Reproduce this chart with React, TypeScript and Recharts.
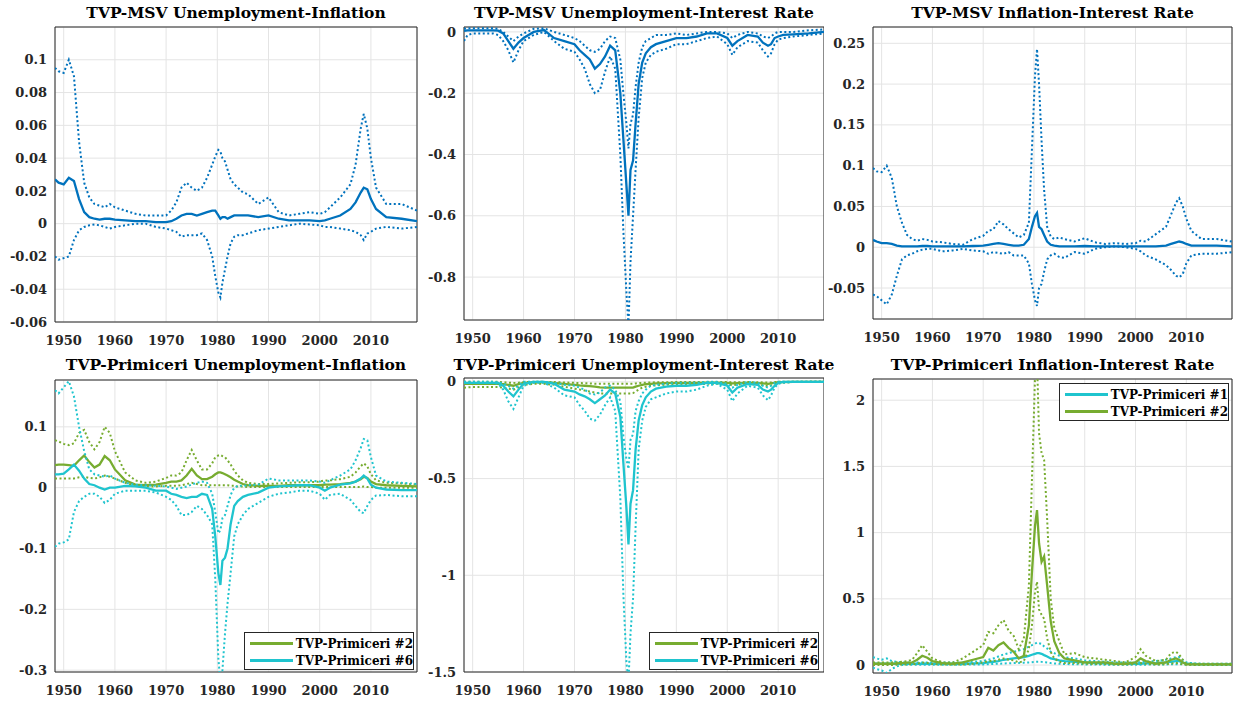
import React from "react"
import { LineChart, Line, XAxis, YAxis, CartesianGrid, ReferenceArea } from "recharts"

// sample dates (denser around the 1980 spike)
const years = [
  1948.3, 1949, 1950, 1951, 1952, 1953, 1954, 1955, 1956, 1957,
  1958, 1959, 1960, 1962, 1964, 1966, 1968, 1970, 1971, 1972,
  1973, 1974, 1975, 1976, 1977, 1978, 1979, 1979.6, 1980.2, 1980.6,
  1981, 1981.5, 1982, 1982.6, 1983.3, 1984, 1985, 1986, 1988, 1990,
  1992, 1994, 1996, 1998, 2000, 2001, 2002, 2004, 2006, 2007,
  2008, 2008.6, 2009.3, 2010, 2011, 2013, 2016, 2019,
]

// TVP-MSV Unemployment-Inflation
const msvUIMed = [
  0.027, 0.025, 0.024, 0.028, 0.026, 0.015, 0.007, 0.004, 0.003, 0.0025,
  0.003, 0.003, 0.0025, 0.002, 0.0015, 0.0015, 0.001, 0.001, 0.0015, 0.003,
  0.005, 0.006, 0.006, 0.005, 0.006, 0.007, 0.008, 0.008, 0.005, 0.003,
  0.004, 0.004, 0.003, 0.004, 0.005, 0.005, 0.005, 0.005, 0.004, 0.005,
  0.003, 0.002, 0.002, 0.002, 0.0015, 0.002, 0.003, 0.005, 0.009, 0.013,
  0.019, 0.022, 0.021, 0.015, 0.009, 0.004, 0.003, 0.0015,
]
const msvUIHi = [
  0.095, 0.093, 0.092, 0.1, 0.09, 0.05, 0.025, 0.016, 0.012, 0.011,
  0.01, 0.012, 0.01, 0.008, 0.006, 0.005, 0.005, 0.005, 0.008, 0.013,
  0.022, 0.025, 0.022, 0.02, 0.022, 0.028, 0.036, 0.041, 0.045, 0.044,
  0.04, 0.038, 0.033, 0.027, 0.024, 0.022, 0.019, 0.018, 0.012, 0.016,
  0.007, 0.005, 0.006, 0.007, 0.006, 0.007, 0.01, 0.016, 0.024, 0.036,
  0.058, 0.067, 0.058, 0.04, 0.022, 0.012, 0.012, 0.008,
]
const msvUILo = [
  -0.02, -0.022, -0.021, -0.02, -0.01, -0.004, -0.002, -0.001, -0.0005, -0.001,
  -0.002, -0.003, -0.002, -0.001, 0, 0, -0.002, -0.003, -0.004, -0.005,
  -0.008, -0.007, -0.007, -0.007, -0.006, -0.01, -0.02, -0.032, -0.042, -0.045,
  -0.036, -0.028, -0.02, -0.012, -0.008, -0.007, -0.007, -0.006, -0.004, -0.003,
  -0.002, -0.001, 0, -0.0005, -0.001, -0.002, -0.002, -0.003, -0.004, -0.005,
  -0.007, -0.01, -0.006, -0.005, -0.003, -0.002, -0.003, -0.002,
]

// TVP-MSV Unemployment-Interest Rate
const msvURMed = [
  0.003, 0.005, 0.005, 0.005, 0.005, 0.005, 0.005, 0.004, -0.005, -0.03,
  -0.055, -0.035, -0.02, 0, 0.006, -0.02, -0.03, -0.04, -0.06, -0.075,
  -0.09, -0.12, -0.105, -0.08, -0.045, -0.06, -0.2, -0.35, -0.5, -0.6,
  -0.45, -0.42, -0.3, -0.17, -0.1, -0.07, -0.05, -0.04, -0.03, -0.02,
  -0.02, -0.015, -0.005, -0.005, -0.02, -0.045, -0.03, -0.01, -0.015, -0.035,
  -0.045, -0.04, -0.02, -0.015, -0.01, -0.008, -0.005, 0,
]
const msvURHi = [
  0.01, 0.012, 0.012, 0.012, 0.012, 0.012, 0.012, 0.01, 0, -0.015,
  -0.03, -0.015, -0.005, 0.01, 0.012, 0, -0.01, -0.02, -0.03, -0.045,
  -0.06, -0.065, -0.055, -0.03, -0.015, -0.02, -0.09, -0.2, -0.3, -0.38,
  -0.3, -0.27, -0.18, -0.1, -0.05, -0.03, -0.02, -0.01, -0.01, -0.005,
  -0.01, -0.005, 0, 0, -0.005, -0.02, -0.01, 0, -0.005, -0.015,
  -0.02, -0.015, -0.005, 0, 0, 0, 0.005, 0.008,
]
const msvURLo = [
  -0.03, -0.01, -0.005, -0.005, -0.005, -0.005, -0.005, -0.01, -0.03, -0.06,
  -0.1, -0.06, -0.03, -0.01, 0, -0.03, -0.055, -0.065, -0.09, -0.12,
  -0.17, -0.2, -0.19, -0.13, -0.08, -0.12, -0.4, -0.65, -0.85, -0.96,
  -0.75, -0.6, -0.45, -0.28, -0.15, -0.1, -0.075, -0.065, -0.055, -0.04,
  -0.04, -0.03, -0.02, -0.015, -0.04, -0.075, -0.05, -0.03, -0.035, -0.06,
  -0.08, -0.07, -0.04, -0.025, -0.02, -0.015, -0.01, -0.005,
]

// TVP-MSV Inflation-Interest Rate
const msvIRMed = [
  0.009, 0.007, 0.005, 0.005, 0.004, 0.002, 0.001, 0.001, 0.001, 0.001,
  0.0015, 0.0015, 0.001, 0.001, 0.001, 0.001, 0.0015, 0.002, 0.003, 0.004,
  0.005, 0.004, 0.003, 0.002, 0.002, 0.003, 0.01, 0.025, 0.038, 0.042,
  0.025, 0.022, 0.015, 0.007, 0.003, 0.002, 0.001, 0.001, 0.001, 0.0015,
  0.001, 0.001, 0.001, 0.001, 0.001, 0.001, 0.001, 0.001, 0.002, 0.004,
  0.006, 0.007, 0.006, 0.004, 0.002, 0.002, 0.002, 0.001,
]
const msvIRHi = [
  0.097, 0.093, 0.092, 0.1, 0.085, 0.05, 0.03, 0.015, 0.01, 0.008,
  0.01, 0.009, 0.007, 0.006, 0.004, 0.003, 0.01, 0.014, 0.02, 0.022,
  0.032, 0.028, 0.022, 0.017, 0.012, 0.015, 0.03, 0.12, 0.21, 0.243,
  0.2, 0.13, 0.07, 0.025, 0.013, 0.01, 0.012, 0.01, 0.007, 0.011,
  0.006, 0.004, 0.005, 0.004, 0.005, 0.008, 0.007, 0.016, 0.025, 0.04,
  0.055, 0.06, 0.05, 0.035, 0.02, 0.01, 0.01, 0.007,
]
const msvIRLo = [
  -0.058, -0.06, -0.065, -0.07, -0.058, -0.035, -0.015, -0.01, -0.008, -0.005,
  -0.003, -0.002, -0.002, -0.005, -0.004, -0.002, -0.004, -0.005, -0.008, -0.006,
  -0.007, -0.008, -0.006, -0.01, -0.01, -0.01, -0.02, -0.045, -0.065, -0.072,
  -0.05, -0.045, -0.03, -0.015, -0.01, -0.008, -0.012, -0.013, -0.006, -0.008,
  -0.002, 0, 0.001, 0, -0.002, -0.005, -0.01, -0.015, -0.022, -0.028,
  -0.035, -0.037, -0.033, -0.02, -0.01, -0.008, -0.008, -0.006,
]

// TVP-Primiceri Unemployment-Inflation
const p2UIMed = [
  0.037, 0.038, 0.038, 0.037, 0.036, 0.045, 0.053, 0.042, 0.033, 0.038,
  0.052, 0.045, 0.03, 0.012, 0.005, 0.004, 0.005, 0.008, 0.01, 0.01,
  0.012, 0.02, 0.031, 0.02, 0.014, 0.014, 0.018, 0.022, 0.025, 0.025,
  0.024, 0.022, 0.02, 0.017, 0.013, 0.01, 0.006, 0.004, 0.003, 0.003,
  0.003, 0.004, 0.004, 0.004, 0.004, 0.005, 0.005, 0.006, 0.008, 0.01,
  0.014, 0.018, 0.016, 0.01, 0.006, 0.004, 0.003, 0.002,
]
const p2UIHi = [
  0.078, 0.076, 0.072, 0.07, 0.073, 0.09, 0.095, 0.075, 0.063, 0.075,
  0.1, 0.09, 0.06, 0.025, 0.012, 0.008, 0.01, 0.016, 0.02, 0.02,
  0.025, 0.045, 0.062, 0.045, 0.03, 0.03, 0.04, 0.05, 0.053, 0.054,
  0.052, 0.05, 0.045, 0.038, 0.028, 0.02, 0.012, 0.008, 0.006, 0.006,
  0.007, 0.008, 0.009, 0.009, 0.01, 0.012, 0.012, 0.014, 0.018, 0.025,
  0.035, 0.04, 0.035, 0.022, 0.012, 0.008, 0.007, 0.005,
]
const p2UILo = [
  0.015, 0.015, 0.015, 0.015, 0.015, 0.017, 0.018, 0.016, 0.015, 0.017,
  0.02, 0.018, 0.015, 0.008, 0.003, 0.002, 0.002, 0.003, 0.003, 0.003,
  0.004, 0.006, 0.008, 0.006, 0.004, 0.004, 0.004, 0.004, 0.004, 0.004,
  0.004, 0.004, 0.004, 0.003, 0.003, 0.002, 0.002, 0.001, 0.001, 0.001,
  0.001, 0.001, 0.001, 0.001, 0.001, 0.001, 0.001, 0.001, 0.001, 0.001,
  0.001, 0.002, 0.001, 0.001, 0, 0, 0, 0,
]
const p6UIMed = [
  0.022, 0.022, 0.023, 0.03, 0.038, 0.028, 0.015, 0.006, 0.004, 0,
  -0.003, 0, 0, 0.003, 0.002, 0, -0.005, -0.005, -0.01, -0.012,
  -0.015, -0.017, -0.015, -0.015, -0.01, -0.012, -0.035, -0.08, -0.14, -0.16,
  -0.12, -0.115, -0.1, -0.06, -0.03, -0.022, -0.015, -0.012, -0.008, 0,
  0.002, 0.003, 0.004, 0.004, 0, -0.005, 0, 0.005, 0.007, 0.01,
  0.015, 0.02, 0.015, 0.005, 0, -0.003, -0.004, -0.004,
]
const p6UIHi = [
  0.16, 0.155, 0.165, 0.175, 0.15, 0.1, 0.06, 0.03, 0.022, 0.02,
  0.018, 0.02, 0.015, 0.008, 0.005, 0.004, 0.003, 0.002, 0, -0.002,
  0, 0.002, 0.005, 0.008, 0.01, 0.008, -0.01, -0.04, -0.075, -0.07,
  -0.05, -0.045, -0.03, -0.012, 0, 0.003, 0.003, 0.004, 0.005, 0.015,
  0.012, 0.012, 0.012, 0.012, 0.01, 0.008, 0.012, 0.02, 0.03, 0.045,
  0.065, 0.08, 0.078, 0.05, 0.02, 0.01, 0.008, 0.006,
]
const p6UILo = [
  -0.097, -0.092, -0.09, -0.085, -0.04, -0.022, -0.015, -0.01, -0.01, -0.015,
  -0.025, -0.02, -0.01, -0.005, -0.005, -0.005, -0.008, -0.015, -0.02, -0.03,
  -0.045, -0.045, -0.04, -0.03, -0.035, -0.045, -0.06, -0.15, -0.28, -0.32,
  -0.3, -0.24, -0.19, -0.14, -0.08, -0.06, -0.045, -0.035, -0.025, -0.015,
  -0.01, -0.008, -0.005, -0.005, -0.01, -0.02, -0.012, -0.01, -0.02, -0.03,
  -0.04, -0.042, -0.03, -0.02, -0.013, -0.012, -0.014, -0.014,
]

// TVP-Primiceri Unemployment-Interest Rate
const p2URMed = [
  -0.01, -0.01, -0.01, -0.01, -0.01, -0.01, -0.01, -0.01, -0.012, -0.015,
  -0.02, -0.012, -0.005, -0.003, -0.003, -0.005, -0.01, -0.015, -0.018, -0.02,
  -0.022, -0.025, -0.028, -0.03, -0.03, -0.03, -0.03, -0.03, -0.03, -0.03,
  -0.03, -0.03, -0.025, -0.02, -0.015, -0.012, -0.01, -0.008, -0.006, -0.005,
  -0.005, -0.005, -0.004, -0.004, -0.005, -0.008, -0.006, -0.005, -0.006, -0.008,
  -0.01, -0.008, -0.005, -0.002, -0.001, 0, 0, 0,
]
const p2URHi = [
  0, 0, 0, 0, 0, 0, 0, 0, -0.002, -0.004,
  -0.006, -0.004, -0.001, 0, 0, -0.001, -0.003, -0.005, -0.006, -0.007,
  -0.008, -0.01, -0.01, -0.01, -0.01, -0.01, -0.01, -0.01, -0.01, -0.01,
  -0.01, -0.01, -0.008, -0.006, -0.005, -0.004, -0.003, -0.002, -0.002, -0.001,
  -0.001, -0.001, -0.001, -0.001, -0.001, -0.002, -0.002, -0.001, -0.002, -0.003,
  -0.003, -0.003, -0.002, 0, 0, 0, 0, 0,
]
const p2URLo = [
  -0.03, -0.028, -0.027, -0.027, -0.027, -0.027, -0.027, -0.027, -0.03, -0.035,
  -0.04, -0.03, -0.015, -0.01, -0.01, -0.015, -0.025, -0.035, -0.04, -0.045,
  -0.05, -0.055, -0.06, -0.06, -0.06, -0.06, -0.06, -0.06, -0.06, -0.06,
  -0.06, -0.058, -0.05, -0.04, -0.03, -0.025, -0.02, -0.018, -0.015, -0.012,
  -0.012, -0.012, -0.01, -0.01, -0.012, -0.018, -0.014, -0.012, -0.014, -0.018,
  -0.022, -0.018, -0.01, -0.005, -0.003, -0.001, 0, 0,
]
const p6URMed = [
  -0.005, -0.005, -0.005, -0.005, -0.005, -0.005, -0.005, -0.005, -0.02, -0.05,
  -0.075, -0.04, -0.01, 0, 0, -0.01, -0.04, -0.05, -0.065, -0.075,
  -0.09, -0.11, -0.09, -0.07, -0.04, -0.06, -0.18, -0.42, -0.65, -0.84,
  -0.63, -0.56, -0.35, -0.2, -0.12, -0.08, -0.05, -0.035, -0.025, -0.02,
  -0.02, -0.015, -0.005, -0.005, -0.02, -0.055, -0.03, -0.01, -0.015, -0.04,
  -0.05, -0.04, -0.02, -0.005, 0, 0, 0, 0,
]
const p6URHi = [
  0, 0, 0, 0, 0, 0, 0, -0.002, -0.01, -0.02,
  -0.035, -0.02, 0, 0, 0, -0.005, -0.015, -0.02, -0.03, -0.04,
  -0.06, -0.065, -0.055, -0.03, -0.02, -0.04, -0.1, -0.28, -0.4, -0.45,
  -0.3, -0.27, -0.15, -0.1, -0.06, -0.04, -0.02, -0.015, -0.01, -0.005,
  -0.005, -0.005, 0, 0, -0.01, -0.03, -0.015, 0, -0.005, -0.02,
  -0.03, -0.02, -0.005, 0, 0, 0, 0, 0,
]
const p6URLo = [
  -0.005, -0.005, -0.005, -0.005, -0.005, -0.005, -0.005, -0.01, -0.04, -0.1,
  -0.14, -0.08, -0.02, -0.005, -0.005, -0.03, -0.07, -0.08, -0.12, -0.15,
  -0.19, -0.2, -0.17, -0.12, -0.08, -0.15, -0.6, -1.1, -1.45, -1.55,
  -1.3, -1.12, -0.75, -0.35, -0.2, -0.13, -0.09, -0.08, -0.06, -0.05,
  -0.05, -0.04, -0.02, -0.01, -0.04, -0.1, -0.06, -0.02, -0.03, -0.07,
  -0.095, -0.07, -0.03, -0.01, -0.005, 0, 0, 0,
]

// TVP-Primiceri Inflation-Interest Rate
const p1IRMed = [
  0.01, 0.01, 0.01, 0.01, 0.01, 0.01, 0.01, 0.01, 0.01, 0.01,
  0.01, 0.01, 0.01, 0.01, 0.01, 0.01, 0.012, 0.015, 0.02, 0.025,
  0.03, 0.04, 0.045, 0.05, 0.055, 0.06, 0.07, 0.078, 0.085, 0.09,
  0.09, 0.085, 0.075, 0.065, 0.05, 0.045, 0.035, 0.03, 0.025, 0.02,
  0.015, 0.012, 0.01, 0.01, 0.01, 0.01, 0.012, 0.015, 0.02, 0.025,
  0.03, 0.03, 0.02, 0.01, 0.008, 0.005, 0.005, 0.005,
]
const p1IRHi = [
  0.06, 0.05, 0.04, 0.05, 0.03, 0.025, 0.02, 0.02, 0.02, 0.02,
  0.02, 0.02, 0.02, 0.02, 0.02, 0.02, 0.025, 0.03, 0.04, 0.05,
  0.065, 0.08, 0.09, 0.1, 0.11, 0.12, 0.14, 0.15, 0.16, 0.17,
  0.165, 0.16, 0.14, 0.125, 0.1, 0.09, 0.07, 0.06, 0.05, 0.035,
  0.03, 0.025, 0.02, 0.02, 0.02, 0.022, 0.025, 0.03, 0.04, 0.05,
  0.06, 0.06, 0.04, 0.02, 0.015, 0.01, 0.01, 0.01,
]
const p1IRLo = [
  -0.02, -0.03, -0.04, -0.06, -0.03, -0.01, 0, 0.002, 0.003, 0.003,
  0.003, 0.003, 0.003, 0.003, 0.003, 0.003, 0.004, 0.005, 0.006, 0.008,
  0.01, 0.012, 0.014, 0.015, 0.016, 0.018, 0.02, 0.022, 0.024, 0.025,
  0.025, 0.024, 0.022, 0.02, 0.015, 0.012, 0.01, 0.008, 0.006, 0.005,
  0.004, 0.003, 0.003, 0.003, 0.003, 0.003, 0.003, 0.004, 0.005, 0.006,
  0.007, 0.007, 0.005, 0.003, 0.002, 0.001, 0.001, 0.001,
]
const p2IRMed = [
  0.01, 0.01, 0.01, 0.01, 0.01, 0.012, 0.015, 0.018, 0.02, 0.04,
  0.07, 0.055, 0.03, 0.015, 0.01, 0.02, 0.04, 0.06, 0.13, 0.11,
  0.15, 0.17, 0.13, 0.1, 0.05, 0.07, 0.3, 0.7, 1.05, 1.17,
  0.92, 0.78, 0.82, 0.6, 0.33, 0.18, 0.09, 0.05, 0.035, 0.02,
  0.02, 0.02, 0.01, 0.01, 0.02, 0.05, 0.03, 0.01, 0.02, 0.04,
  0.05, 0.04, 0.02, 0.005, 0.005, 0.005, 0.005, 0.005,
]
const p2IRHi = [
  0.02, 0.02, 0.02, 0.02, 0.02, 0.022, 0.025, 0.03, 0.04, 0.09,
  0.15, 0.1, 0.05, 0.02, 0.02, 0.05, 0.1, 0.15, 0.25, 0.24,
  0.3, 0.34, 0.26, 0.22, 0.12, 0.2, 0.6, 1.4, 2.16, 2.3,
  1.75, 1.6, 1.55, 1.1, 0.5, 0.28, 0.18, 0.08, 0.09, 0.06,
  0.05, 0.04, 0.03, 0.02, 0.06, 0.12, 0.07, 0.03, 0.04, 0.09,
  0.1, 0.08, 0.04, 0.01, 0.01, 0.01, 0.01, 0.01,
]
const p2IRLo = [
  0, 0, 0, 0, 0, 0.002, 0.004, 0.005, 0.006, 0.01,
  0.02, 0.015, 0.008, 0.004, 0.003, 0.005, 0.01, 0.02, 0.03, 0.03,
  0.04, 0.05, 0.04, 0.035, 0.02, 0.03, 0.12, 0.3, 0.55, 0.63,
  0.42, 0.38, 0.35, 0.2, 0.1, 0.05, 0.025, 0.015, 0.015, 0.01,
  0.008, 0.008, 0.005, 0.004, 0.008, 0.015, 0.01, 0.004, 0.006, 0.012,
  0.015, 0.012, 0.006, 0.002, 0.001, 0.001, 0.001, 0.001,
]

const xTicks = [1950, 1960, 1970, 1980, 1990, 2000, 2010]
const xDomain: [number, number] = [1948.3, 2019]

const BLUE = "#0072BD"
const GREEN = "#77AC30"
const CYAN = "#1FC4CE"
const FONT = "'DejaVu Serif', 'Liberation Serif', serif"

type Band = { name: string; color: string; med: number[]; lo: number[]; hi: number[] }

type PanelProps = {
  title: string
  box: [number, number, number, number]
  plot: [number, number, number, number]
  yDomain: [number, number]
  yTicks: number[]
  bands: Band[]
  titleTop: number
  legend?: [number, number]
}

const tickStyle = { fontWeight: 700, fontSize: 13, fill: "#262626" }

function Panel({ title, box, plot, yDomain, yTicks, bands, titleTop, legend }: PanelProps) {
  const data = years.map((year, i) => {
    const row: Record<string, number> = { year }
    bands.forEach((b, j) => {
      row[`m${j}`] = b.med[i]
      row[`l${j}`] = b.lo[i]
      row[`h${j}`] = b.hi[i]
    })
    return row
  })
  const [bx, by, bw, bh] = box
  const [x1, y1, x2, y2] = plot
  const xAxisH = 20
  const margin = { top: y1 - by, right: bx + bw - x2, bottom: by + bh - y2 - xAxisH, left: 0 }

  return (
    <div style={{ position: "absolute", left: bx, top: by, width: bw, height: bh, fontFamily: FONT }}>
      <div
        style={{
          position: "absolute",
          left: x1 - bx - 30,
          width: x2 - x1 + 60,
          top: titleTop,
          textAlign: "center",
          fontWeight: 700,
          fontSize: 15.5,
          color: "#000",
          whiteSpace: "nowrap",
        }}
      >
        {title}
      </div>
      <LineChart width={bw} height={bh} data={data} margin={margin} style={{ fontFamily: FONT }}>
        <CartesianGrid stroke="#E4E4E4" />
        <XAxis
          type="number"
          dataKey="year"
          domain={xDomain}
          ticks={xTicks}
          allowDataOverflow
          tickLine={false}
          axisLine={false}
          tick={tickStyle}
          tickMargin={8}
          height={xAxisH}
        />
        <YAxis
          type="number"
          domain={yDomain}
          ticks={yTicks}
          allowDataOverflow
          width={x1 - bx}
          tickLine={false}
          axisLine={false}
          tick={tickStyle}
        />
        {bands.flatMap((b, j) => [
          <Line key={`l${j}`} type="linear" dataKey={`l${j}`} stroke={b.color} strokeWidth={2}
            strokeDasharray="2 2.5" dot={false} isAnimationActive={false} />,
          <Line key={`h${j}`} type="linear" dataKey={`h${j}`} stroke={b.color} strokeWidth={2}
            strokeDasharray="2 2.5" dot={false} isAnimationActive={false} />,
          <Line key={`m${j}`} type="linear" dataKey={`m${j}`} stroke={b.color} strokeWidth={2.3}
            dot={false} isAnimationActive={false} />,
        ])}
        <ReferenceArea x1={xDomain[0]} x2={xDomain[1]} y1={yDomain[0]} y2={yDomain[1]}
          fill="none" fillOpacity={0} stroke="#262626" strokeWidth={1} ifOverflow="visible" />
      </LineChart>
      {legend && (
        <div
          style={{
            position: "absolute",
            left: legend[0] - bx,
            top: legend[1] - by,
            width: 170,
            height: 38,
            background: "#fff",
            border: "1px solid #262626",
            boxSizing: "border-box",
            padding: "2px 0 0 5px",
          }}
        >
          {bands.map((b) => (
            <div key={b.name} style={{ display: "flex", alignItems: "center", height: 17 }}>
              <div style={{ width: 46, height: 2.5, background: b.color, marginRight: 3 }} />
              <span style={{ fontWeight: 700, fontSize: 12, color: "#000", whiteSpace: "nowrap" }}>
                {b.name}
              </span>
            </div>
          ))}
        </div>
      )}
    </div>
  )
}

export default function App() {
  return (
    <div style={{ position: "absolute", left: 0, top: 0, width: 1238, height: 704, background: "#fff" }}>
      <Panel
        title="TVP-MSV Unemployment-Inflation"
        box={[0, 0, 420, 352]}
        plot={[55, 27, 417, 322]}
        yDomain={[-0.06, 0.12]}
        yTicks={[-0.06, -0.04, -0.02, 0, 0.02, 0.04, 0.06, 0.08, 0.1]}
        titleTop={3}
        bands={[{ name: "TVP-MSV", color: BLUE, med: msvUIMed, lo: msvUILo, hi: msvUIHi }]}
      />
      <Panel
        title="TVP-MSV Unemployment-Interest Rate"
        box={[420, 0, 404, 352]}
        plot={[464, 27, 824, 320]}
        yDomain={[-0.94, 0.016]}
        yTicks={[-0.8, -0.6, -0.4, -0.2, 0]}
        titleTop={3}
        bands={[{ name: "TVP-MSV", color: BLUE, med: msvURMed, lo: msvURLo, hi: msvURHi }]}
      />
      <Panel
        title="TVP-MSV Inflation-Interest Rate"
        box={[824, 0, 414, 352]}
        plot={[873, 27, 1232, 319]}
        yDomain={[-0.088, 0.27]}
        yTicks={[-0.05, 0, 0.05, 0.1, 0.15, 0.2, 0.25]}
        titleTop={3}
        bands={[{ name: "TVP-MSV", color: BLUE, med: msvIRMed, lo: msvIRLo, hi: msvIRHi }]}
      />
      <Panel
        title="TVP-Primiceri Unemployment-Inflation"
        box={[0, 345, 420, 359]}
        plot={[55, 380, 417, 672]}
        yDomain={[-0.303, 0.177]}
        yTicks={[-0.3, -0.2, -0.1, 0, 0.1]}
        titleTop={10}
        legend={[244, 632]}
        bands={[
          { name: "TVP-Primiceri #2", color: GREEN, med: p2UIMed, lo: p2UILo, hi: p2UIHi },
          { name: "TVP-Primiceri #6", color: CYAN, med: p6UIMed, lo: p6UILo, hi: p6UIHi },
        ]}
      />
      <Panel
        title="TVP-Primiceri Unemployment-Interest Rate"
        box={[420, 345, 404, 359]}
        plot={[464, 378, 824, 672]}
        yDomain={[-1.5, 0.02]}
        yTicks={[-1.5, -1, -0.5, 0]}
        titleTop={10}
        legend={[649, 632]}
        bands={[
          { name: "TVP-Primiceri #2", color: GREEN, med: p2URMed, lo: p2URLo, hi: p2URHi },
          { name: "TVP-Primiceri #6", color: CYAN, med: p6URMed, lo: p6URLo, hi: p6URHi },
        ]}
      />
      <Panel
        title="TVP-Primiceri Inflation-Interest Rate"
        box={[824, 345, 414, 359]}
        plot={[873, 379, 1232, 673]}
        yDomain={[-0.06, 2.16]}
        yTicks={[0, 0.5, 1, 1.5, 2]}
        titleTop={10}
        legend={[1059, 383]}
        bands={[
          { name: "TVP-Primiceri #1", color: CYAN, med: p1IRMed, lo: p1IRLo, hi: p1IRHi },
          { name: "TVP-Primiceri #2", color: GREEN, med: p2IRMed, lo: p2IRLo, hi: p2IRHi },
        ]}
      />
    </div>
  )
}
